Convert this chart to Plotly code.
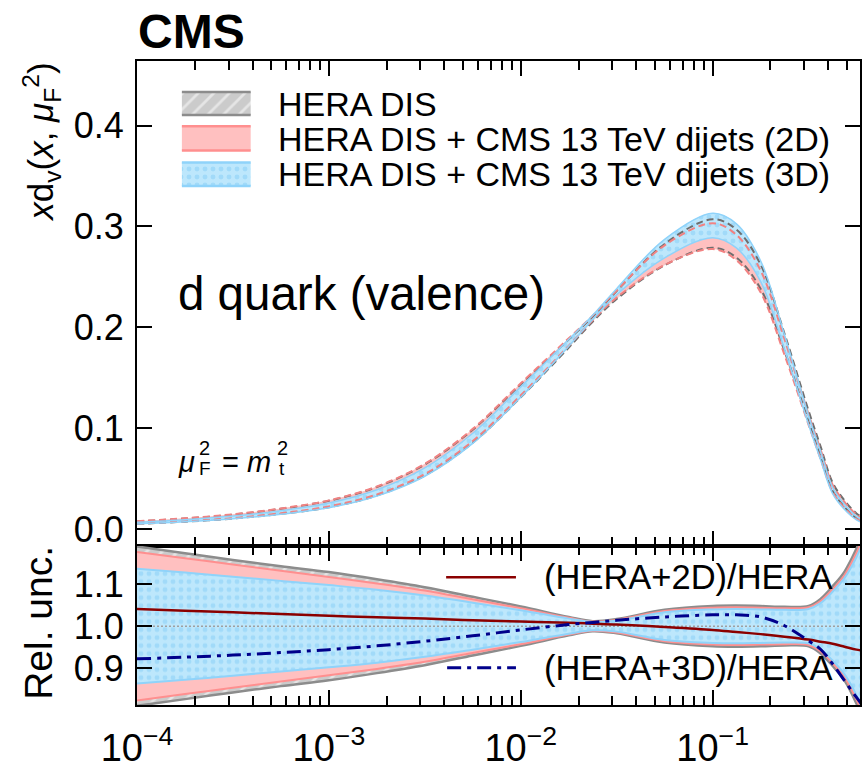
import plotly.graph_objects as go

# ---------------- data ----------------
x = [1.0e-4, 1.78e-4, 3.16e-4, 5.62e-4, 1.0e-3, 1.78e-3, 3.16e-3, 5.62e-3, 1.0e-2, 1.78e-2,
     2.37e-2, 3.16e-2, 5.62e-2, 0.100, 0.133, 0.178, 0.237, 0.316, 0.365, 0.422, 0.487, 0.562, 0.631]

hera_central = [0.0063, 0.0088, 0.0123, 0.0175, 0.0248, 0.0375, 0.0585, 0.092, 0.137, 0.184,
                0.208, 0.232, 0.272, 0.293, 0.283, 0.250, 0.185, 0.112, 0.077, 0.042, 0.025, 0.013, 0.008]

ratio_2d = [1.041, 1.037, 1.033, 1.029, 1.025, 1.021, 1.018, 1.014, 1.011, 1.008,
            1.006, 1.004, 0.998, 0.991, 0.986, 0.981, 0.975, 0.968, 0.963, 0.958, 0.951, 0.944, 0.940]

ratio_3d = [0.922, 0.926, 0.931, 0.937, 0.944, 0.953, 0.964, 0.977, 0.991, 1.004,
            1.009, 1.014, 1.022, 1.027, 1.027, 1.022, 1.001, 0.965, 0.945, 0.910, 0.870, 0.830, 0.800]

unc_hera = [0.190, 0.174, 0.158, 0.143, 0.129, 0.112, 0.093, 0.070, 0.047, 0.022,
            0.012, 0.017, 0.039, 0.048, 0.049, 0.048, 0.046, 0.048, 0.065, 0.095, 0.130, 0.185, 0.240]

unc_2d = [0.177, 0.162, 0.147, 0.132, 0.117, 0.102, 0.085, 0.064, 0.043, 0.020,
          0.011, 0.015, 0.036, 0.044, 0.045, 0.044, 0.043, 0.045, 0.060, 0.088, 0.122, 0.175, 0.230]

unc_3d = [0.137, 0.128, 0.118, 0.108, 0.098, 0.087, 0.073, 0.056, 0.038, 0.018,
          0.010, 0.013, 0.033, 0.040, 0.041, 0.040, 0.039, 0.041, 0.055, 0.082, 0.115, 0.165, 0.220]

x_tick_vals = [1e-4, 1e-3, 1e-2, 1e-1]
x_tick_text = ["10<sup>\u22124</sup>", "10<sup>\u22123</sup>", "10<sup>\u22122</sup>", "10<sup>\u22121</sup>"]
y_top_ticks = [0.0, 0.1, 0.2, 0.3, 0.4]
y_top_text = ["0.0", "0.1", "0.2", "0.3", "0.4"]
y_bot_ticks = [0.9, 1.0, 1.1]
y_bot_text = ["0.9", "1.0", "1.1"]

legend_top = ["HERA DIS", "HERA DIS + CMS 13 TeV dijets (2D)", "HERA DIS + CMS 13 TeV dijets (3D)"]
legend_bot = ["(HERA+2D)/HERA", "(HERA+3D)/HERA"]

# ---------------- derived bands ----------------
c2 = [c * r for c, r in zip(hera_central, ratio_2d)]
c3 = [c * r for c, r in zip(hera_central, ratio_3d)]
bands_top = [
    ([c * (1 - u) for c, u in zip(hera_central, unc_hera)], [c * (1 + u) for c, u in zip(hera_central, unc_hera)]),
    ([c * (1 - u) for c, u in zip(c2, unc_2d)], [c * (1 + u) for c, u in zip(c2, unc_2d)]),
    ([c * (1 - u) for c, u in zip(c3, unc_3d)], [c * (1 + u) for c, u in zip(c3, unc_3d)]),
]
bands_bot = [
    ([1 - u for u in unc_hera], [1 + u for u in unc_hera]),
    ([1 - u for u in unc_2d], [1 + u for u in unc_2d]),
    ([1 - u for u in unc_3d], [1 + u for u in unc_3d]),
]

FONT = "Liberation Sans, Arial, Helvetica, sans-serif"
GRAY_BG, GRAY_EDGE, GRAY_DASH = "#cbcbcb", "#8c8c8c", "#6e6e6e"
PINK_BG, PINK_EDGE = "#ffc0c0", "#ff8f8f"
BLUE_BG, BLUE_DOT, BLUE_EDGE = "#bde7fc", "#86cdf6", "#8fd3fa"

fill_styles = [
    dict(fillcolor=GRAY_BG, fillpattern=dict(shape="/", bgcolor=GRAY_BG, fgcolor="white", size=11, solidity=0.25)),
    dict(fillcolor=PINK_BG),
    dict(fillcolor=BLUE_BG, fillpattern=dict(shape=".", bgcolor=BLUE_BG, fgcolor=BLUE_DOT, size=8, solidity=0.3)),
]

fig = go.Figure()

def add_bands(bands, xa, ya, edge_styles):
    for (lo, hi), st in zip(bands, fill_styles):
        fig.add_trace(go.Scatter(x=x, y=lo, mode="lines", line=dict(width=0, shape="spline"),
                                 xaxis=xa, yaxis=ya, showlegend=False, hoverinfo="skip"))
        fig.add_trace(go.Scatter(x=x, y=hi, mode="lines", line=dict(width=0, shape="spline"),
                                 fill="tonexty", xaxis=xa, yaxis=ya, showlegend=False,
                                 hoverinfo="skip", **st))
    for (lo, hi), es in zip(bands, edge_styles):
        for yy in (lo, hi):
            fig.add_trace(go.Scatter(x=x, y=yy, mode="lines", line=dict(shape="spline", **es),
                                     xaxis=xa, yaxis=ya, showlegend=False, hoverinfo="skip"))

# upper panel
add_bands(bands_top, "x", "y", [
    dict(color=GRAY_DASH, width=2, dash="7px,4px"),
    dict(color="#f28282", width=2, dash="7px,4px"),
    dict(color=BLUE_EDGE, width=1.5),
])

# lower panel
add_bands(bands_bot, "x2", "y2", [
    dict(color=GRAY_EDGE, width=2.5),
    dict(color=PINK_EDGE, width=2),
    dict(color=BLUE_EDGE, width=2),
])
fig.add_trace(go.Scatter(x=[x[0], x[-1]], y=[1.0, 1.0], mode="lines",
                         line=dict(color="#a0a0a0", width=1.5, dash="2px,2px"),
                         xaxis="x2", yaxis="y2", showlegend=False, hoverinfo="skip"))
fig.add_trace(go.Scatter(x=x, y=ratio_2d, mode="lines", line=dict(color="#8b0000", width=2.5, shape="spline"),
                         xaxis="x2", yaxis="y2", showlegend=False, hoverinfo="skip"))
fig.add_trace(go.Scatter(x=x, y=ratio_3d, mode="lines",
                         line=dict(color="#00008b", width=3, shape="spline", dash="14px,6px,4px,6px"),
                         xaxis="x2", yaxis="y2", showlegend=False, hoverinfo="skip"))

# ---------------- geometry ----------------
W, H = 862, 769
L, R, T, B = 137, 862, 61, 725
SPLIT = 560.7
def px(v):
    return (v - L) / (R - L)
def py(v):
    return (B - v) / (B - T)

# legend samples drawn on a hidden pixel-coordinate overlay axis
leg_rows = [(93, 116.7), (128.3, 153.3), (165.7, 190)]
leg_edges = [GRAY_EDGE, PINK_EDGE, BLUE_EDGE]
for (y0, y1), st, ec in zip(leg_rows, fill_styles, leg_edges):
    fig.add_trace(go.Scatter(x=[182, 251, 251, 182, 182], y=[y0, y0, y1, y1, y0], mode="lines",
                             line=dict(width=0), fill="toself", xaxis="x3", yaxis="y3",
                             showlegend=False, hoverinfo="skip", **st))
    for yy in (y0, y1):
        fig.add_trace(go.Scatter(x=[182, 251], y=[yy, yy], mode="lines", line=dict(color=ec, width=2.5),
                                 xaxis="x3", yaxis="y3", showlegend=False, hoverinfo="skip"))
fig.add_trace(go.Scatter(x=[447, 517], y=[593.3, 593.3], mode="lines", line=dict(color="#8b0000", width=2.5),
                         xaxis="x3", yaxis="y3", showlegend=False, hoverinfo="skip"))
fig.add_trace(go.Scatter(x=[448, 517], y=[686.7, 686.7], mode="lines",
                         line=dict(color="#00008b", width=3, dash="14px,6px,4px,6px"),
                         xaxis="x3", yaxis="y3", showlegend=False, hoverinfo="skip"))

minor_x = [d * 10.0 ** e for e in (-4, -3, -2, -1) for d in range(2, 10)]

axis_common = dict(showline=True, linecolor="black", linewidth=2, mirror="ticks", ticks="inside",
                   tickwidth=2, tickcolor="black", showgrid=False, zeroline=False,
                   tickfont=dict(family=FONT, size=36, color="black"))
xcommon = dict(axis_common, type="log", range=[-4, -0.232], tickmode="array", tickvals=x_tick_vals,
               ticklen=15,
               minor=dict(tickmode="array", tickvals=minor_x, ticks="inside", ticklen=9,
                          tickwidth=2, tickcolor="black", showgrid=False))
dom = (B - SPLIT) / (B - T)

annotations = [
    dict(text="<b>CMS</b>", x=px(136), y=py(31), xanchor="left", yanchor="middle",
         font=dict(family=FONT, size=48, color="black")),
    dict(text="d quark (valence)", x=px(176), y=py(301), xanchor="left", yanchor="middle",
         font=dict(family=FONT, size=47.5, color="black")),
    dict(text="<i>x</i>d<sub>v</sub>(<i>x</i>, <i>\u03bc</i><sub>F</sub><sup>2</sup>)", x=px(41), y=py(145),
         textangle=-90, xanchor="center", yanchor="middle", font=dict(family=FONT, size=35, color="black")),
    dict(text="Rel. unc.", x=px(38), y=py(640), textangle=-90, xanchor="center", yanchor="middle",
         font=dict(family=FONT, size=39, color="black")),
]
for t, yc in zip(legend_top, (105, 141, 178)):
    annotations.append(dict(text=t, x=px(276), y=py(yc), xanchor="left", yanchor="middle",
                            font=dict(family=FONT, size=34, color="black")))
for t, yc in zip(legend_bot, (593, 687)):
    annotations.append(dict(text=t, x=px(543), y=py(yc), xanchor="left", yanchor="middle",
                            font=dict(family=FONT, size=34.5, color="black")))
# mu_F^2 = m_t^2 built from pieces so the scripts stack
for txt, xl, yc, sz in [("<i>\u03bc</i>", 176, 474, 29), ("2", 197, 460, 20), ("F", 197, 481, 19),
                        ("= <i>m</i>", 220, 474, 29), ("2", 275, 460, 20), ("t", 277, 481, 19)]:
    annotations.append(dict(text=txt, x=px(xl), y=py(yc), xanchor="left", yanchor="middle",
                            font=dict(family=FONT, size=sz, color="black")))
for a in annotations:
    a.update(xref="paper", yref="paper", showarrow=False)

fig.update_layout(
    width=W, height=H, margin=dict(l=L, r=W - R, t=T, b=H - B),
    paper_bgcolor="white", plot_bgcolor="rgba(0,0,0,0)", showlegend=False,
    xaxis=dict(xcommon, anchor="y", matches="x2", showticklabels=False),
    yaxis=dict(axis_common, domain=[dom, 1], range=[-0.0165, 0.464], tickmode="array",
               tickvals=y_top_ticks, ticktext=y_top_text, ticklen=15, ticklabelstandoff=4),
    xaxis2=dict(xcommon, anchor="y2", ticktext=x_tick_text, ticklabelstandoff=8,
                tickfont=dict(family=FONT, size=38, color="black")),
    yaxis2=dict(axis_common, domain=[0, dom], range=[0.812, 1.192], tickmode="array",
                tickvals=y_bot_ticks, ticktext=y_bot_text, ticklen=15, ticklabelstandoff=4),
    xaxis3=dict(domain=[0, 1], range=[L, R], anchor="y3", visible=False, fixedrange=True),
    yaxis3=dict(domain=[0, 1], range=[B, T], anchor="x3", visible=False, fixedrange=True),
    annotations=annotations,
)

fig.write_html("out.html")
